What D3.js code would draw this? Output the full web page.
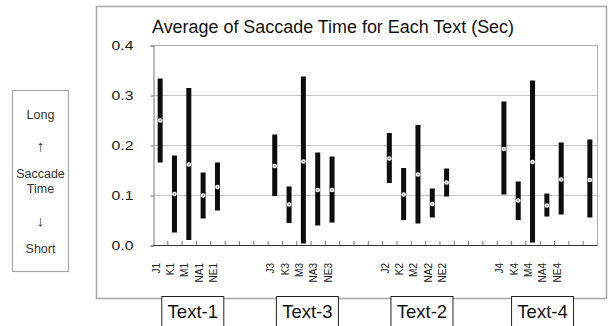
<!DOCTYPE html>
<html><head><meta charset="utf-8">
<script src="https://cdn.jsdelivr.net/npm/d3@7"></script>
<style>
html,body{margin:0;padding:0;background:#fff;}
svg{display:block;font-family:"Liberation Sans",Arial,Helvetica,sans-serif;}
</style></head>
<body><svg id="c" width="608" height="326"></svg>
<script>
// ---- data ----
const categories = ["J1","K1","M1","NA1","NE1","","","","J3","K3","M3","NA3","NE3","","","","J2","K2","M2","NA2","NE2","","","","J4","K4","M4","NA4","NE4","",""];
const lows  = [0.165,0.025,0.010,0.053,0.069,null,null,null,0.098,0.044,0.003,0.039,0.045,null,null,null,0.124,0.050,0.043,0.055,0.097,null,null,null,0.101,0.050,0.005,0.057,0.061,null,0.055];
const highs = [0.333,0.179,0.314,0.145,0.165,null,null,null,0.221,0.117,0.337,0.185,0.177,null,null,null,0.224,0.154,0.240,0.113,0.153,null,null,null,0.287,0.127,0.329,0.103,0.205,null,0.211];
const means = [0.249,0.102,0.161,0.099,0.116,null,null,null,0.158,0.081,0.167,0.110,0.110,null,null,null,0.173,0.101,0.141,0.082,0.125,null,null,null,0.192,0.089,0.166,0.079,0.131,null,0.130];
const yTicks = [0.0,0.1,0.2,0.3,0.4];
const groupLabels = ["Text-1","Text-3","Text-2","Text-4"];
const groupFirst = [0,8,16,24];
const groupLast = [4,12,20,28];
const sideLabels = ["Long","\u2191","Saccade","Time","\u2193","Short"];
const title = "Average of Saccade Time for Each Text (Sec)";

// ---- layout ----
const svg = d3.select("#c");
const L = 153, R = 597, T = 45, B = 245;
const x = d3.scaleBand().domain(d3.range(categories.length)).range([L, R]).padding(0);
const y = d3.scaleLinear().domain([0, 0.4]).range([B, T]);
const bw = x.bandwidth();

// outer frame
svg.append("rect").attr("x",96.5).attr("y",6.5).attr("width",510).attr("height",292)
  .attr("fill","none").attr("stroke","#a8a8a8").attr("stroke-width",1.5);

// side box
svg.append("rect").attr("x",12.5).attr("y",90.5).attr("width",56).attr("height",181)
  .attr("fill","none").attr("stroke","#a8a8a8").attr("stroke-width",1.2);
const sideY = [118.5,151,177.5,192.5,226,252.5];
svg.selectAll("text.side").data(sideLabels).join("text").attr("class","side")
  .attr("x",40.5).attr("y",(d,i)=>sideY[i]).attr("text-anchor","middle")
  .attr("font-size",(d,i)=> (i===1||i===4)?15:12.5).attr("fill","#333").text(d=>d);

// title
svg.append("text").attr("x",152).attr("y",33).attr("font-size",17.5).attr("fill","#111")
  .attr("textLength",362).attr("lengthAdjust","spacingAndGlyphs").text(title);

// gridlines
svg.append("g").selectAll("line").data(yTicks.filter(v=>v>0 && v<0.4)).join("line")
  .attr("x1",L).attr("x2",R).attr("y1",d=>y(d)+0.5).attr("y2",d=>y(d)+0.5)
  .attr("stroke","#c8c8c8").attr("stroke-width",1);

// plot frame top/right
svg.append("path").attr("d",`M${L},${T+0.5}H${R+0.5}V${B}`).attr("fill","none")
  .attr("stroke","#b0b0b0").attr("stroke-width",1);

// y axis
const ya = svg.append("g").attr("transform",`translate(${L+0.5},0.5)`)
  .call(d3.axisLeft(y).tickValues(yTicks).tickFormat(d3.format(".1f")).tickSize(3).tickPadding(17));
ya.select(".domain").attr("stroke","#777");
ya.selectAll(".tick line").attr("stroke","#777");
ya.selectAll(".tick text").attr("font-size",12.5).attr("fill","#222")
  .attr("font-family","Liberation Sans, Arial, sans-serif")
  .attr("textLength",22).attr("lengthAdjust","spacingAndGlyphs");

// x axis line + inward ticks at band boundaries
svg.append("line").attr("x1",L).attr("x2",R+0.5).attr("y1",B+0.5).attr("y2",B+0.5)
  .attr("stroke","#333").attr("stroke-width",1.2);
svg.append("g").selectAll("line").data(d3.range(1,categories.length)).join("line")
  .attr("x1",d=>x(d)+0.5).attr("x2",d=>x(d)+0.5).attr("y1",B).attr("y2",B-4)
  .attr("stroke","#555").attr("stroke-width",0.8);

// x labels
svg.append("g").selectAll("text").data(categories.map((c,i)=>({c,i})).filter(d=>d.c)).join("text")
  .attr("transform",d=>`translate(${x(d.i)+bw/2-4},263) rotate(-90)`)
  .attr("text-anchor","end").attr("dominant-baseline","central")
  .attr("font-size",10).attr("fill","#222").text(d=>d.c);

// bars (range)
const idx = d3.range(categories.length).filter(i=>lows[i]!==null);
svg.append("g").selectAll("rect").data(idx).join("rect")
  .attr("x",i=>x(i)+bw/2-2.5).attr("width",5)
  .attr("y",i=>y(highs[i])).attr("height",i=>y(lows[i])-y(highs[i]))
  .attr("fill","#0d0d0d");

// mean markers
const mk = svg.append("g").selectAll("g").data(idx).join("g")
  .attr("transform",i=>`translate(${x(i)+bw/2},${y(means[i])})`);
mk.append("circle").attr("r",2.3).attr("fill","#fff");
mk.append("circle").attr("r",1).attr("fill","#999");

// group label boxes
const boxShift = [4,4,4,10];
groupLabels.forEach((g,k)=>{
  const cx = (x(groupFirst[k]) + x(groupLast[k]) + bw)/2 + boxShift[k];
  svg.append("rect").attr("x",cx-31).attr("y",296.5).attr("width",62).attr("height",40)
    .attr("fill","#fff").attr("stroke","#222").attr("stroke-width",1);
  svg.append("text").attr("x",cx).attr("y",318).attr("text-anchor","middle")
    .attr("font-size",18.5).attr("fill","#111").text(g);
});
</script></body></html>
